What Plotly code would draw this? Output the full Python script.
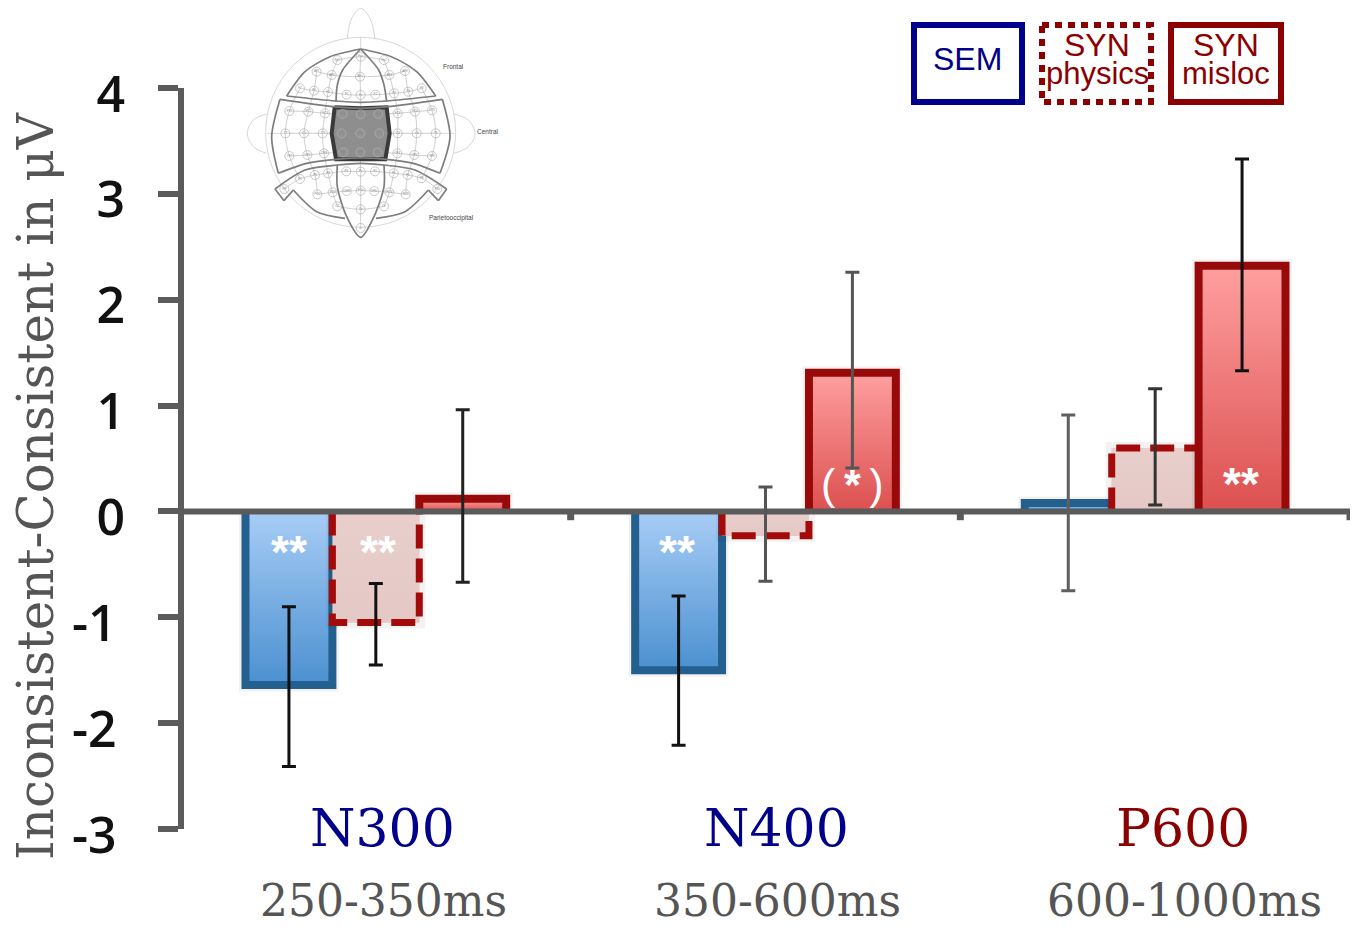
import plotly.graph_objects as go

W, H = 1363, 929
windows = ["N300", "N400", "P600"]
ranges = ["250-350ms", "350-600ms", "600-1000ms"]
window_colors = ["#00008b", "#00008b", "#8b0000"]

sem_values = [-1.64, -1.50, 0.08]
sem_plus = [0.74, 0.70, 0.83]
sem_minus = [0.77, 0.71, 0.83]
physics_values = [-1.05, -0.23, 0.60]
physics_plus = [0.37, 0.46, 0.56]
physics_minus = [0.40, 0.43, 0.54]
misloc_values = [0.12, 1.31, 2.32]
misloc_plus = [0.84, 0.95, 1.01]
misloc_minus = [0.79, 0.90, 0.99]
y_ticks = [-3, -2, -1, 0, 1, 2, 3, 4]

electrodes = {
 "Fp1": (322,180), "Fpz": (392,170), "Fp2": (462,180), "AF7": (260,215), "AF3": (305,225), "AFz": (390,230),
 "AF4": (478,225), "AF8": (525,213), "F7": (210,265), "F5": (252,272), "F3": (294,276), "F1": (350,284),
 "Fz": (392,285), "F2": (436,284), "F4": (492,280), "F6": (535,275), "F8": (575,265),
 "FT7": (178,333), "FC5": (235,335), "FC3": (285,340), "FC1": (338,342), "FCz": (392,343), "FC2": (445,342),
 "FC4": (503,340), "FC6": (555,335), "FT8": (606,331),
 "T7": (166,400), "C5": (222,400), "C3": (278,400), "C1": (335,400), "Cz": (391,400), "C2": (448,400),
 "C4": (503,400), "C6": (560,400), "T8": (617,400),
 "TP7": (178,468), "CP5": (232,465), "CP3": (282,460), "CP1": (340,457), "CPz": (391,457), "CP2": (443,457),
 "CP4": (502,460), "CP6": (553,465), "TP8": (606,468),
 "P1": (349,514), "Pz": (392,515), "P2": (435,514), "P3": (294,520), "P5": (255,525), "P7": (210,537),
 "P9": (163,567), "P4": (491,520), "P6": (533,525), "P8": (575,535), "P10": (622,567),
 "PO7": (262,583), "PO3": (308,577), "CMS": (350,573), "POz": (392,572), "DRL": (433,573), "PO4": (478,577),
 "PO8": (527,583), "O1": (322,619), "Oz": (392,628), "O2": (462,619), "Iz": (392,684),
}
electrode_rows = [
 ["F7","F5","F3","F1","Fz","F2","F4","F6","F8"], ["AF7","AF3","AFz","AF4","AF8"], ["Fp1","Fpz","Fp2"],
 ["FT7","FC5","FC3","FC1","FCz","FC2","FC4","FC6","FT8"], ["T7","C5","C3","C1","Cz","C2","C4","C6","T8"],
 ["TP7","CP5","CP3","CP1","CPz","CP2","CP4","CP6","TP8"],
 ["P9","P7","P5","P3","P1","Pz","P2","P4","P6","P8","P10"], ["PO7","PO3","CMS","POz","DRL","PO4","PO8"], ["O1","Oz","O2"],
 ["Fpz","AFz","Fz","FCz","Cz","CPz","Pz","POz","Oz","Iz"], ["Fp1","AF3","F3","FC3","C3","CP3","P3","PO3","O1"],
 ["Fp2","AF4","F4","FC4","C4","CP4","P4","PO4","O2"], ["AF7","F5","FC5","C5","CP5","P5","PO7"], ["AF8","F6","FC6","C6","CP6","P6","PO8"],
 ["F7","FT7","T7","TP7","P7"], ["F8","FT8","T8","TP8","P8"],
]
head_outlines = [
 [(352,115),(365,55),(392,25),(420,55),(435,115)],
 [(110,342),(70,360),(52,400),(70,440),(110,460)],
 [(672,342),(715,360),(735,400),(715,440),(672,460)],
]
region_curves = [
 [(170,288),(225,215),(300,170),(392,147)],
 [(617,288),(560,215),(484,170),(392,147)],
 [(392,147),(338,210),(322,255),(318,305)],
 [(392,147),(446,210),(462,255),(470,305)],
 [(170,288),(316,303),(392,307),(470,303),(617,288)],
 [(150,298),(312,320),(392,325),(472,320),(637,298)],
 [(150,298),(125,410),(145,520)],
 [(637,298),(660,410),(630,520)],
 [(145,520),(230,490),(318,478),(392,474),(470,478),(550,490),(630,520)],
 [(135,567),(225,510),(322,495),(392,490),(462,495),(555,510),(650,567)],
 [(135,567),(162,602)],
 [(162,602),(190,570)],
 [(190,570),(260,635),(345,655)],
 [(650,567),(625,602)],
 [(625,602),(595,570)],
 [(595,570),(525,635),(438,655)],
 [(322,495),(322,560),(350,650),(392,712),(432,650),(462,560),(462,495)],
]
highlight = [(314,322),(392,325),(470,322),(479,400),(466,478),(392,478),(318,478),(305,400),(314,322)]
head_labels = [("Frontal",670,200),("Central",775,395),("Parietooccipital",665,653)]

BAR_W = 0.223
OFFSETS = [-BAR_W, 0.0, BAR_W]
group_x = [0, 1, 2]

series = [
 dict(name="SEM", v=sem_values, p=sem_plus, m=sem_minus, base="#6ea6dd", line="#24608f", dash="solid", lw=8,
      grad=("#4b90d0", "#a8cdf6"), err=["#111111", "#111111", "#5f5f5f"]),
 dict(name="SYN physics", v=physics_values, p=physics_plus, m=physics_minus, base="#e6cbc8", line="#a30b0b", dash="24px,10px", lw=7,
      grad=("#e4c8c5", "#e8cfcc"), err=["#111111", "#555555", "#333333"]),
 dict(name="SYN misloc", v=misloc_values, p=misloc_plus, m=misloc_minus, base="#ee7a7a", line="#980a0a", dash="solid", lw=8,
      grad=("#dc5050", "#ff9f9f"), err=["#222222", "#555555", "#111111"]),
]

fig = go.Figure()
for s in series:
    fig.add_trace(go.Bar(x=group_x, y=s["v"], name=s["name"], marker=dict(color=s["base"], line=dict(width=0)), showlegend=False))

for i, s in enumerate(series):
    for g, v in zip(group_x, s["v"]):
        c = g + OFFSETS[i]
        xs = [c-BAR_W/2, c-BAR_W/2, c+BAR_W/2, c+BAR_W/2]
        ys = [0, v, v, 0]
        # soft halo standing in for the drop shadow
        fig.add_trace(go.Scatter(x=xs, y=ys, mode="lines", line=dict(color="rgba(0,0,0,0.05)", width=s["lw"]+5),
                                 showlegend=False, hoverinfo="skip"))
        fig.add_trace(go.Scatter(
            x=xs, y=ys, mode="lines",
            fill="toself", fillgradient=dict(type="vertical", colorscale=[[0, s["grad"][0]], [1, s["grad"][1]]]),
            line=dict(color=s["line"], width=s["lw"], dash=s["dash"]), showlegend=False, hoverinfo="skip"))

# x axis line at zero, over the bars
fig.add_trace(go.Scatter(x=[-0.5, 2.5], y=[0, 0], mode="lines", line=dict(color="#5b5b5b", width=6), showlegend=False, hoverinfo="skip"))
fig.add_trace(go.Scatter(x=[0.5, 1.5, 2.5], y=[-0.05, -0.05, -0.05], mode="markers",
                         marker=dict(symbol="square", size=7, color="#5b5b5b"), showlegend=False, hoverinfo="skip"))

for i, s in enumerate(series):
    for k, g in enumerate(group_x):
        fig.add_trace(go.Scatter(
            x=[g + OFFSETS[i]], y=[s["v"][k]], mode="markers", marker=dict(size=1, opacity=0), showlegend=False,
            error_y=dict(type="data", symmetric=False, array=[s["p"][k]], arrayminus=[s["m"][k]],
                         color=s["err"][k], thickness=3, width=7)))

# head diagram
H_AX = dict(xaxis="x2", yaxis="y2", showlegend=False, hoverinfo="skip")
for row in electrode_rows:
    fig.add_trace(go.Scatter(x=[electrodes[n][0] for n in row], y=[electrodes[n][1] for n in row], mode="lines",
                             line=dict(color="#d0d0d0", width=1, shape="spline"), **H_AX))
fig.add_trace(go.Scatter(x=[110, 672], y=[400, 400], mode="lines", line=dict(color="#d8d8d8", width=1), **H_AX))
fig.add_trace(go.Scatter(x=[392, 392], y=[110, 150], mode="lines", line=dict(color="#d8d8d8", width=1), **H_AX))
for o in head_outlines:
    fig.add_trace(go.Scatter(x=[p[0] for p in o], y=[p[1] for p in o], mode="lines",
                             line=dict(color="#d5d5d5", width=1, shape="spline"), **H_AX))
fig.add_trace(go.Scatter(x=[p[0] for p in highlight], y=[p[1] for p in highlight], mode="lines", fill="toself",
                         fillcolor="#8e8e8e", line=dict(color="#3a3a3a", width=4), **H_AX))
cx, cy = [], []
for r in region_curves:
    cx += [p[0] for p in r] + [None]
    cy += [p[1] for p in r] + [None]
fig.add_trace(go.Scatter(x=cx, y=cy, mode="lines", line=dict(color="#7d7d7d", width=1.7, shape="spline", smoothing=0.8), **H_AX))
fig.add_trace(go.Scatter(x=[p[0] for p in electrodes.values()], y=[p[1] for p in electrodes.values()],
                         mode="markers+text", text=list(electrodes.keys()), textposition="middle center",
                         textfont=dict(size=3, color="#888888", family="Liberation Sans"),
                         marker=dict(size=9, color="rgba(255,255,255,0.05)", line=dict(color="#b0b0b0", width=0.7)), **H_AX))

FW, FH = W - 8, H - 8
OFF = 8
def px(x): return (x - OFF) / FW
def py(y): return 1 - (y - OFF) / FH

def note(text, x, y, size, color, family, **kw):
    fig.add_annotation(text=text, x=px(x), y=py(y), xref="paper", yref="paper", showarrow=False,
                       xanchor="center", yanchor="middle", font=dict(size=size, color=color, family=family), **kw)

SERIF = "DejaVu Serif"
SANS = "Liberation Sans"
for name, rng, col, c in zip(windows, ranges, window_colors, [382, 776, 1183]):
    note(name, c, 828, 52, col, SERIF)
    note(rng, c + 1, 900, 44, "#555555", SERIF)
note("Inconsistent-Consistent in μV", 36, 486, 50, "#555555", SERIF, textangle=-90)

for txt, x, y in [("<b>**</b>", 289, 552), ("<b>**</b>", 378, 552), ("<b>**</b>", 677, 552), ("<b>**</b>", 1241, 484)]:
    note(txt, x, y, 46, "#ffffff", SANS)
note("(\u2009<b>*</b>\u2009)", 852, 484, 43, "#ffffff", SANS)

note("SEM", 968, 59, 32, "#00008b", SANS)
note("SYN", 1097, 45, 32, "#8b0000", SANS)
note("physics", 1097, 73, 31, "#8b0000", SANS)
note("SYN", 1226, 45, 32, "#8b0000", SANS)
note("misloc", 1226, 73, 31, "#8b0000", SANS)
for txt, zx, zy in head_labels:
    note(txt, 230 + zx/3, zy/3, 6.5, "#444444", SANS)

shapes = [dict(type="circle", xref="x2", yref="y2", x0=107, x1=677, y0=112, y1=682, layer="below",
               line=dict(color="#d8d8d8", width=1))]
for x0, x1, c, d in [(914, 1022, "#00008b", "solid"), (1042, 1151, "#8b0000", "7px,6px"), (1171, 1281, "#8b0000", "solid")]:
    shapes.append(dict(type="rect", xref="paper", yref="paper", x0=px(x0), x1=px(x1), y0=py(25), y1=py(102),
                       line=dict(color=c, width=6, dash=d)))

fig.update_layout(
    width=FW, height=FH, margin=dict(l=0, r=0, t=0, b=0, pad=0), paper_bgcolor="white", plot_bgcolor="white",
    barmode="group", bargap=1 - 3*BAR_W, bargroupgap=0, shapes=shapes, showlegend=False,
    xaxis=dict(domain=[px(184), px(1350)], range=[-0.4923, 2.5], showticklabels=False, showgrid=False, zeroline=False, showline=False, ticks="", automargin=False),
    yaxis=dict(domain=[py(829), py(88)], range=[-3, 4], tickvals=y_ticks,
               ticktext=[(str(t) + "\u2009") if t < 0 else str(t) for t in y_ticks], automargin=False,
               showgrid=False, zeroline=False, showline=True, linecolor="#5b5b5b", linewidth=6,
               ticks="outside", ticklen=20, tickwidth=6, tickcolor="#5b5b5b", ticklabelstandoff=23, ticklabelshift=6,
               tickfont=dict(size=50, color="#111111", family="Open Sans", weight=600)),
    xaxis2=dict(domain=[px(230), px(510)], range=[0, 840], visible=False, anchor="y2", automargin=False),
    yaxis2=dict(domain=[py(250), 1], range=[750, 24], visible=False, anchor="x2", automargin=False),
)
fig.write_html("out.html")
